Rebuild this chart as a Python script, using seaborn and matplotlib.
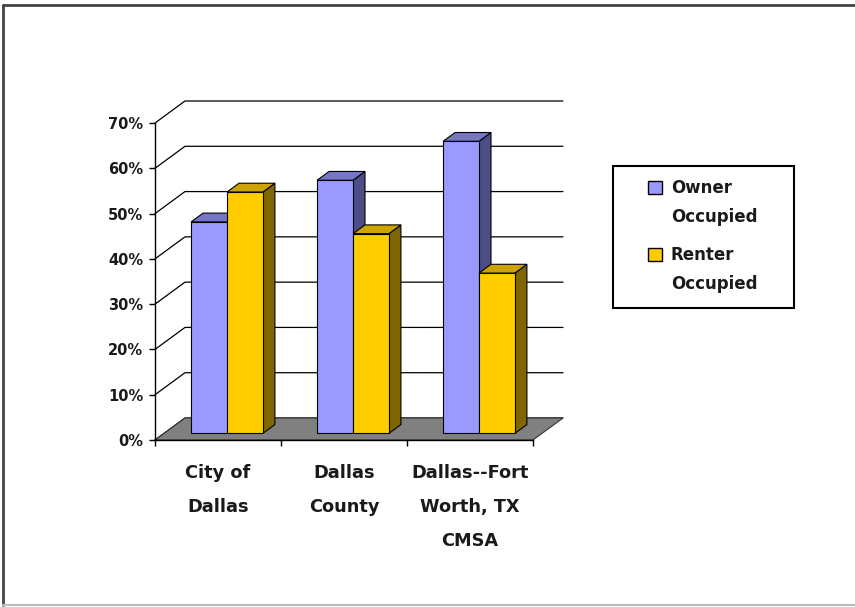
import numpy as np
import pandas as pd
import matplotlib
matplotlib.use("Agg")
import matplotlib.pyplot as plt
import seaborn as sns
from matplotlib.patches import Polygon, Rectangle, Patch
from matplotlib.legend_handler import HandlerPatch
from matplotlib.lines import Line2D

# ---- data ----
areas = ["City of\nDallas", "Dallas\nCounty", "Dallas--Fort\nWorth, TX\nCMSA"]
series = ["Owner\nOccupied", "Renter\nOccupied"]
owner = [46.7, 55.9, 64.5]
renter = [53.3, 44.1, 35.4]
ytick_vals = [0, 10, 20, 30, 40, 50, 60, 70]
ytick_labels = ["0%", "10%", "20%", "30%", "40%", "50%", "60%", "70%"]

# ---- style ----
front_cols = ["#9999FF", "#FFCC00"]
side_cols = ["#4D4D88", "#806600"]
top_cols = ["#7575CC", "#CCA300"]
floor_col = "#808080"

sns.set_theme(style="white")
plt.rcParams["font.family"] = ["DejaVu Sans"]
plt.rcParams["font.weight"] = "bold"

W, H = 855, 607
fig = plt.figure(figsize=(W / 100, H / 100), dpi=100)
ax = fig.add_axes([155 / W, (H - 440) / H, 378 / W, 317 / H])
ax.patch.set_alpha(0)

df = pd.DataFrame({
    "Area": areas * 2,
    "Type": [series[0]] * len(areas) + [series[1]] * len(areas),
    "Value": owner + renter,
})

sns.barplot(data=df, x="Area", y="Value", hue="Type", order=areas,
            hue_order=series, palette=front_cols, saturation=1,
            width=0.57, gap=0, edgecolor="black", linewidth=0.8,
            legend=False, ax=ax, err_kws={"linewidth": 0})

ax.set_xlim(-0.5, len(areas) - 0.5)
ax.set_ylim(0, 70)

# pixel -> data conversion for the pseudo-3D depth
p0 = ax.transData.transform((0, 0))
p1 = ax.transData.transform((1, 1))
px_x, px_y = p1[0] - p0[0], p1[1] - p0[1]
wx, wy = 30 / px_x, 22 / px_y  # wall depth offset in data units

x_lo, x_hi = ax.get_xlim()

# back wall grid lines
for v in ytick_vals:
    ax.plot([x_lo, x_lo + wx, x_hi + wx], [v, v + wy, v + wy],
            color="black", lw=0.9, clip_on=False, zorder=1)

# floor
ax.add_patch(Polygon([(x_lo, 0), (x_hi, 0), (x_hi + wx, wy), (x_lo + wx, wy)],
                     closed=True, facecolor=floor_col, edgecolor="#333333",
                     lw=0.8, clip_on=False, zorder=2))

# 3D bars
f0, fd = 0.3, 0.4
for i, cont in enumerate(ax.containers):
    for j, rect in enumerate(cont):
        x0 = rect.get_x() + f0 * wx
        y0 = f0 * wy
        w = rect.get_width()
        h = rect.get_height()
        rect.set_x(x0)
        rect.set_y(y0)
        base = 10 + j * 10 + i * 3
        dx, dy = fd * wx, fd * wy
        side = Polygon([(x0 + w, y0), (x0 + w + dx, y0 + dy),
                        (x0 + w + dx, y0 + h + dy), (x0 + w, y0 + h)],
                       closed=True, facecolor=side_cols[i], edgecolor="black",
                       lw=0.8, clip_on=False, zorder=base)
        top = Polygon([(x0, y0 + h), (x0 + dx, y0 + h + dy),
                       (x0 + w + dx, y0 + h + dy), (x0 + w, y0 + h)],
                      closed=True, facecolor=top_cols[i], edgecolor="black",
                      lw=0.8, clip_on=False, zorder=base + 1)
        ax.add_patch(side)
        ax.add_patch(top)
        rect.set_zorder(base + 2)
        rect.set_clip_on(False)

# axes styling
for s in ["top", "right"]:
    ax.spines[s].set_visible(False)
for s in ["left", "bottom"]:
    ax.spines[s].set_color("black")
    ax.spines[s].set_linewidth(1.0)
    ax.spines[s].set_zorder(3)

ax.set_yticks(ytick_vals, ytick_labels)
ax.tick_params(axis="y", left=True, direction="out", length=4.5, width=1,
               color="black", pad=4, labelsize=10.5, labelcolor="#1a1a1a")
ax.set_xticks(np.arange(len(areas) + 1) - 0.5, minor=True)
ax.tick_params(axis="x", which="minor", bottom=True, direction="out",
               length=4.5, width=1, color="black")
ax.tick_params(axis="x", which="major", bottom=False, length=0, pad=17.5,
               labelsize=12.8, labelcolor="#1a1a1a")
for lab in ax.get_xticklabels():
    lab.set_linespacing(2.12)
    lab.set_fontweight("bold")
for lab in ax.get_yticklabels():
    lab.set_fontweight("bold")
ax.set_xlabel("")
ax.set_ylabel("")

# outer frame
fig.add_artist(Line2D([3 / W, 1], [1 - 5 / H] * 2, transform=fig.transFigure,
                      color="#444444", lw=2))
fig.add_artist(Line2D([3 / W] * 2, [1 - 5 / H, 1 - 605 / H],
                      transform=fig.transFigure, color="#444444", lw=2))
fig.add_artist(Line2D([3 / W, 1], [1 - 605 / H] * 2, transform=fig.transFigure,
                      color="#BBBBBB", lw=1.5))

# legend
leg_fs = 12
line_ls = 1.8
shift_pt = 0.5 * (28.3 + 3.9) * 0.72


def make_sq(legend, orig_handle, xdescent, ydescent, width, height, fontsize):
    return Rectangle((-xdescent, -ydescent + shift_pt), width, height)


handles = [Patch(facecolor=cont[0].get_facecolor(), edgecolor="black", lw=1.0)
           for cont in ax.containers]
leg = fig.legend(handles, series, loc="upper left",
                 bbox_to_anchor=(648 / W, 1 - 179 / H), frameon=False,
                 handlelength=10 / leg_fs, handleheight=10 / leg_fs,
                 handletextpad=6.5 / leg_fs, labelspacing=1.18, borderpad=0,
                 borderaxespad=0,
                 handler_map={Patch: HandlerPatch(patch_func=make_sq)},
                 prop={"weight": "bold", "size": leg_fs})
for t in leg.get_texts():
    t.set_linespacing(line_ls)
    t.set_color("#1a1a1a")

fig.add_artist(Rectangle((613 / W, (H - 308) / H), 181 / W, 142 / H,
                         transform=fig.transFigure, fill=False,
                         edgecolor="black", lw=1.5))

fig.savefig("out.png", dpi=100)
